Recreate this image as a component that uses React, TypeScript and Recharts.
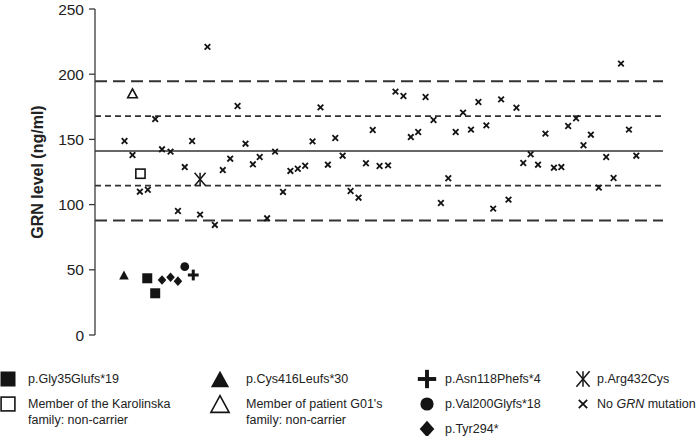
import React from 'react';
import { ScatterChart, Scatter, XAxis, YAxis, ReferenceLine } from 'recharts';

// Sample position (0 = left edge, 100 = right edge of plot) and GRN level (ng/ml)
const noMutation = [
  { x: 19.8, y: 221 }, { x: 25.1, y: 175.6 }, { x: 10.6, y: 165.6 }, { x: 5.2, y: 148.8 },
  { x: 17.1, y: 148.8 }, { x: 6.6, y: 138 }, { x: 11.8, y: 142.4 }, { x: 13.3, y: 140.6 },
  { x: 23.8, y: 135.2 }, { x: 15.8, y: 128.8 }, { x: 22.5, y: 126.5 }, { x: 7.9, y: 109.9 },
  { x: 9.3, y: 111.4 }, { x: 14.6, y: 95.1 }, { x: 18.5, y: 92.3 }, { x: 21.1, y: 84.4 },
  { x: 39.7, y: 174.6 }, { x: 48.9, y: 157.2 }, { x: 42.3, y: 151.1 }, { x: 38.3, y: 148.5 },
  { x: 26.5, y: 146.7 }, { x: 31.7, y: 140.6 }, { x: 43.6, y: 137.5 }, { x: 29.0, y: 136.5 },
  { x: 27.8, y: 130.9 }, { x: 47.7, y: 131.7 }, { x: 41.0, y: 130.6 }, { x: 37.0, y: 129.8 },
  { x: 35.7, y: 127.5 }, { x: 34.4, y: 125.8 }, { x: 50.1, y: 129.6 }, { x: 33.1, y: 109.7 },
  { x: 45.0, y: 110.4 }, { x: 46.4, y: 105.3 }, { x: 30.3, y: 89.5 }, { x: 52.9, y: 186.6 },
  { x: 54.3, y: 183.3 }, { x: 58.2, y: 182.5 }, { x: 67.5, y: 178.7 }, { x: 71.5, y: 180.7 },
  { x: 74.2, y: 174.3 }, { x: 64.8, y: 170.5 }, { x: 59.6, y: 164.9 }, { x: 68.9, y: 160.8 },
  { x: 66.2, y: 157.5 }, { x: 63.5, y: 155.7 }, { x: 56.9, y: 155.7 }, { x: 55.6, y: 151.8 },
  { x: 51.6, y: 130.1 }, { x: 62.2, y: 120.2 }, { x: 60.9, y: 101.2 }, { x: 72.8, y: 103.8 },
  { x: 70.1, y: 96.9 }, { x: 92.6, y: 208.1 }, { x: 84.7, y: 166.2 }, { x: 83.3, y: 160.3 },
  { x: 94.0, y: 157.5 }, { x: 79.3, y: 154.4 }, { x: 87.3, y: 153.6 }, { x: 86.0, y: 145.5 },
  { x: 76.7, y: 138.6 }, { x: 90.0, y: 136.5 }, { x: 95.3, y: 137.5 }, { x: 75.4, y: 131.9 },
  { x: 78.0, y: 130.6 }, { x: 80.8, y: 128.3 }, { x: 82.1, y: 128.8 }, { x: 91.3, y: 120.4 },
  { x: 88.7, y: 113 },
];
const gly35 = [{ x: 9.2, y: 43.5 }, { x: 10.6, y: 32 }];
const karolinskaNonCarrier = [{ x: 8.0, y: 123.7 }];
const cys416 = [{ x: 5.1, y: 46 }];
const g01NonCarrier = [{ x: 6.6, y: 185.3 }];
const asn118 = [{ x: 17.3, y: 46 }];
const val200 = [{ x: 15.8, y: 52.4 }];
const tyr294 = [{ x: 11.8, y: 42.2 }, { x: 13.3, y: 44.3 }, { x: 14.6, y: 41.3 }];
const arg432 = [{ x: 18.5, y: 119.4 }];

const yTicks = [0, 50, 100, 150, 200, 250];
// mean and ±1 SD, ±2 SD of the non-mutation group
const refMean = 141.2;
const refSd1 = [114.5, 167.9];
const refSd2 = [87.8, 194.6];

const INK = '#141414';

type P = { cx?: number; cy?: number; s?: number };

const XMark = ({ cx = 0, cy = 0, s = 1 }: P) => {
  const h = 2.8 * s;
  return (
    <g stroke={INK} strokeWidth={1.8}>
      <line x1={cx - h} y1={cy - h} x2={cx + h} y2={cy + h} />
      <line x1={cx - h} y1={cy + h} x2={cx + h} y2={cy - h} />
    </g>
  );
};
const FilledSquare = ({ cx = 0, cy = 0, s = 1 }: P) => {
  const h = 5 * s;
  return <rect x={cx - h} y={cy - h} width={2 * h} height={2 * h} fill={INK} />;
};
const OpenSquare = ({ cx = 0, cy = 0, s = 1 }: P) => {
  const h = 4.6 * s;
  return <rect x={cx - h} y={cy - h} width={2 * h} height={2 * h} fill="#fff" stroke={INK} strokeWidth={1.6} />;
};
const triPath = (cx: number, cy: number, s: number) => {
  const w = 4.8 * s;
  const hh = 4.4 * s;
  return `M${cx},${cy - hh} L${cx + w},${cy + hh} L${cx - w},${cy + hh} Z`;
};
const FilledTriangle = ({ cx = 0, cy = 0, s = 1 }: P) => <path d={triPath(cx, cy, s)} fill={INK} />;
const OpenTriangle = ({ cx = 0, cy = 0, s = 1 }: P) => (
  <path d={triPath(cx, cy, s)} fill="#fff" stroke={INK} strokeWidth={1.6} strokeLinejoin="miter" />
);
const Plus = ({ cx = 0, cy = 0, s = 1 }: P) => {
  const h = 5.4 * s;
  return (
    <g stroke={INK} strokeWidth={3 * Math.min(s, 1.3)}>
      <line x1={cx - h} y1={cy} x2={cx + h} y2={cy} />
      <line x1={cx} y1={cy - h} x2={cx} y2={cy + h} />
    </g>
  );
};
const Dot = ({ cx = 0, cy = 0, s = 1 }: P) => <circle cx={cx} cy={cy} r={4.4 * s} fill={INK} />;
const Diamond = ({ cx = 0, cy = 0, s = 1 }: P) => {
  const w = 4.3 * s;
  const hh = 4.8 * s;
  return <path d={`M${cx},${cy - hh} L${cx + w},${cy} L${cx},${cy + hh} L${cx - w},${cy} Z`} fill={INK} />;
};
const Asterisk = ({ cx = 0, cy = 0, s = 1 }: P) => {
  const w = 5.5 * s;
  const hh = 6.5 * s;
  return (
    <g stroke={INK} strokeWidth={1.5}>
      <line x1={cx - w} y1={cy - hh} x2={cx + w} y2={cy + hh} />
      <line x1={cx - w} y1={cy + hh} x2={cx + w} y2={cy - hh} />
      <line x1={cx} y1={cy - hh} x2={cx} y2={cy + hh} />
    </g>
  );
};

const legendItems = [
  { Shape: FilledSquare, s: 1.5, lines: ['p.Gly35Glufs*19'], col: 0, row: 0 },
  { Shape: OpenSquare, s: 1.5, lines: ['Member of the Karolinska', 'family: non-carrier'], col: 0, row: 1 },
  { Shape: FilledTriangle, s: 1.9, lines: ['p.Cys416Leufs*30'], col: 1, row: 0 },
  { Shape: OpenTriangle, s: 1.9, lines: ["Member of patient G01's", 'family: non-carrier'], col: 1, row: 1 },
  { Shape: Plus, s: 1.7, lines: ['p.Asn118Phefs*4'], col: 2, row: 0 },
  { Shape: Dot, s: 1.5, lines: ['p.Val200Glyfs*18'], col: 2, row: 1 },
  { Shape: Diamond, s: 1.7, lines: ['p.Tyr294*'], col: 2, row: 2 },
  { Shape: Asterisk, s: 1.2, lines: ['p.Arg432Cys'], col: 3, row: 0 },
  { Shape: XMark, s: 1.5, lines: ['No GRN mutation'], col: 3, row: 1 },
];
const legendColSym = [8, 220, 427, 583];
const legendColText = [28, 246, 445, 597];
const legendRowY = [379, 404, 429];

const FONT = '"Liberation Sans", Arial, Helvetica, sans-serif';

const shapeOf = (C: React.FC<P>) => (props: any) => <C cx={props.cx} cy={props.cy} />;

export default function App() {
  return (
    <div style={{ position: 'absolute', left: 0, top: 0, width: 700, height: 436, background: '#fff' }}>
      <ScatterChart width={700} height={436} margin={{ top: 9, right: 37, bottom: 101, left: 0 }}>
        <XAxis type="number" dataKey="x" domain={[0, 100]} hide />
        <YAxis
          type="number"
          dataKey="y"
          domain={[0, 250]}
          ticks={yTicks}
          width={95}
          tickSize={6}
          tickMargin={5}
          axisLine={{ stroke: '#3a3a3a', strokeWidth: 1.3 }}
          tickLine={{ stroke: '#3a3a3a', strokeWidth: 1.3 }}
          tick={{ fill: '#222', fontSize: 15.5, fontFamily: FONT }}
          label={{
            content: () => (
              <text
                x={37}
                y={172}
                transform="rotate(-90 37 172)"
                textAnchor="middle"
                dominantBaseline="central"
                fontFamily={FONT}
                fontWeight="bold"
                fontSize={16}
                fill="#222"
              >
                GRN level (ng/ml)
              </text>
            ),
          }}
        />
        {refSd2.map((v) => (
          <ReferenceLine key={'sd2' + v} y={v} stroke="#333" strokeWidth={1.8} strokeDasharray="12 6" />
        ))}
        {refSd1.map((v) => (
          <ReferenceLine key={'sd1' + v} y={v} stroke="#333" strokeWidth={1.8} strokeDasharray="6 4" />
        ))}
        <ReferenceLine y={refMean} stroke="#333" strokeWidth={1.5} />
        <Scatter name="No GRN mutation" data={noMutation} shape={shapeOf(XMark)} isAnimationActive={false} />
        <Scatter name="p.Gly35Glufs*19" data={gly35} shape={shapeOf(FilledSquare)} isAnimationActive={false} />
        <Scatter name="Karolinska non-carrier" data={karolinskaNonCarrier} shape={shapeOf(OpenSquare)} isAnimationActive={false} />
        <Scatter name="p.Cys416Leufs*30" data={cys416} shape={shapeOf(FilledTriangle)} isAnimationActive={false} />
        <Scatter name="G01 non-carrier" data={g01NonCarrier} shape={shapeOf(OpenTriangle)} isAnimationActive={false} />
        <Scatter name="p.Tyr294*" data={tyr294} shape={shapeOf(Diamond)} isAnimationActive={false} />
        <Scatter name="p.Val200Glyfs*18" data={val200} shape={shapeOf(Dot)} isAnimationActive={false} />
        <Scatter name="p.Asn118Phefs*4" data={asn118} shape={shapeOf(Plus)} isAnimationActive={false} />
        <Scatter name="p.Arg432Cys" data={arg432} shape={shapeOf(Asterisk)} isAnimationActive={false} />
      </ScatterChart>
      <svg width={700} height={436} style={{ position: 'absolute', left: 0, top: 0, pointerEvents: 'none' }}>
        {legendItems.map((it, i) => {
          const y = legendRowY[it.row];
          const S = it.Shape;
          return (
            <g key={i}>
              <S cx={legendColSym[it.col]} cy={y} s={it.s} />
              {it.lines.map((ln, j) => (
                <text
                  key={j}
                  x={legendColText[it.col]}
                  y={y + j * 15.5}
                  dominantBaseline="central"
                  fontFamily={FONT}
                  fontSize={12.5}
                  fill="#222"
                >
                  {ln === 'No GRN mutation' ? (
                    <>
                      No <tspan fontStyle="italic">GRN</tspan> mutation
                    </>
                  ) : (
                    ln
                  )}
                </text>
              ))}
            </g>
          );
        })}
      </svg>
    </div>
  );
}
